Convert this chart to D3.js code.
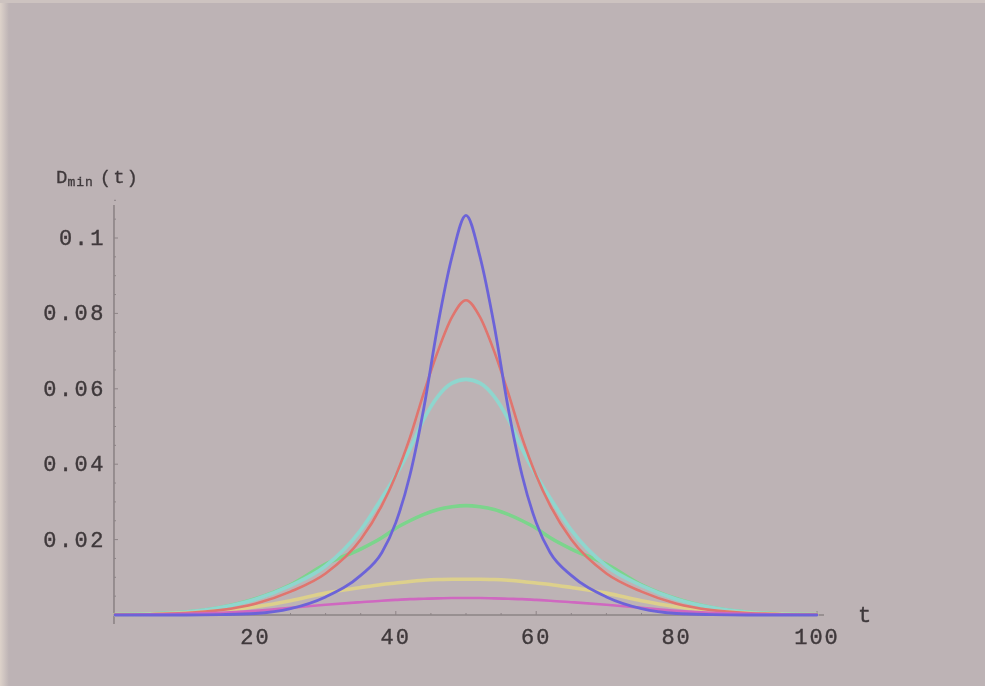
<!DOCTYPE html>
<html>
<head>
<meta charset="utf-8">
<script src="https://cdn.jsdelivr.net/npm/d3@7"></script>
<style>
  html, body { margin: 0; padding: 0; background: #bdb3b5; overflow: hidden; }
  svg { display: block; }
</style>
</head>
<body>
<svg id="chart"></svg>
<script>
// t values (x axis)
const tValues = [0, 5, 10, 15, 20, 25, 30, 35, 38, 40, 42, 44, 46, 48, 50,
                 52, 54, 56, 58, 60, 62, 65, 70, 75, 80, 85, 90, 95, 100];

// D_min(t) series
const blueValues = [0, 0, 0, 0.0001, 0.0004, 0.0017, 0.0048, 0.0105, 0.0165, 0.0245, 0.037, 0.055, 0.077, 0.095, 0.106,
                    0.095, 0.077, 0.055, 0.037, 0.0245, 0.0165, 0.0105, 0.0048, 0.0017, 0.0004, 0.0001, 0, 0, 0];
const redValues = [0.0001, 0.0002, 0.0005, 0.0013, 0.003, 0.0062, 0.011, 0.020, 0.029, 0.037, 0.047, 0.059, 0.070, 0.079, 0.0835,
                   0.079, 0.070, 0.059, 0.047, 0.037, 0.029, 0.020, 0.011, 0.0062, 0.003, 0.0013, 0.0005, 0.0002, 0.0001];
const cyanValues = [0.0001, 0.0003, 0.0008, 0.002, 0.0042, 0.0078, 0.013, 0.0225, 0.031, 0.037, 0.044, 0.052, 0.058, 0.0615, 0.0625,
                    0.0615, 0.058, 0.052, 0.044, 0.037, 0.031, 0.0225, 0.013, 0.0078, 0.0042, 0.002, 0.0008, 0.0003, 0.0001];
const greenValues = [0.0001, 0.0003, 0.0008, 0.002, 0.0043, 0.008, 0.0135, 0.0175, 0.0205, 0.023, 0.025, 0.0267, 0.028, 0.0287, 0.029,
                     0.0287, 0.028, 0.0267, 0.025, 0.023, 0.0205, 0.0175, 0.0135, 0.008, 0.0043, 0.002, 0.0008, 0.0003, 0.0001];
const yellowValues = [0.0001, 0.0002, 0.0005, 0.0011, 0.0022, 0.0038, 0.0058, 0.0073, 0.0081, 0.0085, 0.0089, 0.0092, 0.0094, 0.0095, 0.0095,
                      0.0095, 0.0094, 0.0092, 0.0089, 0.0085, 0.0081, 0.0073, 0.0058, 0.0038, 0.0022, 0.0011, 0.0005, 0.0002, 0.0001];
const magentaValues = [0, 0.0001, 0.0003, 0.0006, 0.0011, 0.0019, 0.0027, 0.0034, 0.0038, 0.004, 0.0042, 0.0043, 0.0044, 0.0045, 0.0045,
                       0.0045, 0.0044, 0.0043, 0.0042, 0.004, 0.0038, 0.0034, 0.0027, 0.0019, 0.0011, 0.0006, 0.0003, 0.0001, 0];

const xTicks = [20, 40, 60, 80, 100];
const yTicks = [0.02, 0.04, 0.06, 0.08, 0.1];
const yTickLabels = ['0.02', '0.04', '0.06', '0.08', '0.1'];

const series = [
    { name: 'green', values: greenValues, color: '#7cd48c', width: 3.6 },
    { name: 'cyan', values: cyanValues, color: '#8fd6ce', width: 3.6 },
    { name: 'yellow', values: yellowValues, color: '#ddd08c', width: 3.6 },
    { name: 'red', values: redValues, color: '#e0746e', width: 2.6 },
    { name: 'magenta', values: magentaValues, color: '#cf68c0', width: 2.6 },
    { name: 'blue', values: blueValues, color: '#6c64d8', width: 2.8 }
];

const W = 985, H = 686;
const svg = d3.select('#chart').attr('width', W).attr('height', H);

// slight softness like the photographed screen
const defs = svg.append('defs');
defs.append('filter').attr('id', 'soft')
    .append('feGaussianBlur').attr('stdDeviation', 0.7);

const edge = defs.append('linearGradient').attr('id', 'leftEdge');
edge.append('stop').attr('offset', '0%').attr('stop-color', '#ddd2ca');
edge.append('stop').attr('offset', '100%').attr('stop-color', '#bdb3b5');

svg.append('rect').attr('width', W).attr('height', H).attr('fill', '#bdb3b5');
svg.append('rect').attr('width', 9).attr('height', H).attr('fill', 'url(#leftEdge)');
svg.append('rect').attr('width', W).attr('height', 3).attr('fill', '#cdc3c0');

const g = svg.append('g').attr('filter', 'url(#soft)');

// scales
const xScale = d3.scaleLinear().domain([0, 100]).range([115, 817]);
const yScale = d3.scaleLinear().domain([0, 0.1]).range([615, 238]);

const axisColor = '#8d8486';
const textColor = '#3f393b';
const mono = '"Liberation Mono", "DejaVu Sans Mono", monospace';

// x axis line
g.append('line')
    .attr('x1', xScale(0) - 2).attr('x2', xScale(100) + 7)
    .attr('y1', yScale(0)).attr('y2', yScale(0))
    .attr('stroke', axisColor).attr('stroke-width', 1.6);

// y axis line
g.append('line')
    .attr('x1', xScale(0) - 1).attr('x2', xScale(0) - 1)
    .attr('y1', 205).attr('y2', yScale(0) + 9)
    .attr('stroke', axisColor).attr('stroke-width', 1.6);

// minor + major ticks on x axis
d3.range(5, 101, 5).forEach(t => {
    const major = t % 20 === 0;
    g.append('line')
        .attr('x1', xScale(t)).attr('x2', xScale(t))
        .attr('y1', yScale(0)).attr('y2', yScale(0) - (major ? 4 : 2))
        .attr('stroke', axisColor).attr('stroke-width', 1);
});

// minor + major ticks on y axis
d3.range(1, 23).map(i => i * 0.005).forEach(v => {
    const major = Math.round(v * 1000) % 20 === 0;
    g.append('line')
        .attr('x1', xScale(0) - 1).attr('x2', xScale(0) - 1 + (major ? 4 : 2))
        .attr('y1', yScale(v)).attr('y2', yScale(v))
        .attr('stroke', axisColor).attr('stroke-width', 1);
});

// x tick labels
g.selectAll('.x-label')
    .data(xTicks)
    .enter().append('text')
    .attr('class', 'x-label')
    .attr('x', d => xScale(d))
    .attr('y', 644)
    .attr('text-anchor', 'middle')
    .attr('font-family', mono)
    .attr('font-size', 22)
    .attr('letter-spacing', 2)
    .attr('fill', textColor)
    .attr('stroke', textColor).attr('stroke-width', 0.4)
    .text(d => d);

// y tick labels
g.selectAll('.y-label')
    .data(yTicks)
    .enter().append('text')
    .attr('class', 'y-label')
    .attr('x', 106)
    .attr('y', d => yScale(d) + 7)
    .attr('text-anchor', 'end')
    .attr('font-family', mono)
    .attr('font-size', 22)
    .attr('letter-spacing', 2.5)
    .attr('fill', textColor)
    .attr('stroke', textColor).attr('stroke-width', 0.4)
    .text((d, i) => yTickLabels[i]);

// axis names
g.append('text')
    .attr('x', 858).attr('y', 622)
    .attr('font-family', mono)
    .attr('font-size', 22)
    .attr('fill', textColor)
    .attr('stroke', textColor).attr('stroke-width', 0.4)
    .text('t');

const yName = g.append('text')
    .attr('x', 56).attr('y', 183)
    .attr('font-family', mono)
    .attr('font-size', 19)
    .attr('fill', textColor)
    .attr('stroke', textColor).attr('stroke-width', 0.3);
yName.append('tspan').text('D');
yName.append('tspan').attr('font-size', 13).attr('dy', 3).attr('letter-spacing', 1).text('min');
yName.append('tspan').attr('dy', -3).attr('dx', 6).attr('letter-spacing', 2).text('(t)');

// curves
const line = d3.line()
    .x((d, i) => xScale(tValues[i]))
    .y(d => yScale(d))
    .curve(d3.curveMonotoneX);

g.selectAll('.curve')
    .data(series)
    .enter().append('path')
    .attr('class', 'curve')
    .attr('d', d => line(d.values))
    .attr('fill', 'none')
    .attr('stroke', d => d.color)
    .attr('stroke-width', d => d.width)
    .attr('stroke-linejoin', 'round')
    .attr('stroke-linecap', 'round');
</script>
</body>
</html>
